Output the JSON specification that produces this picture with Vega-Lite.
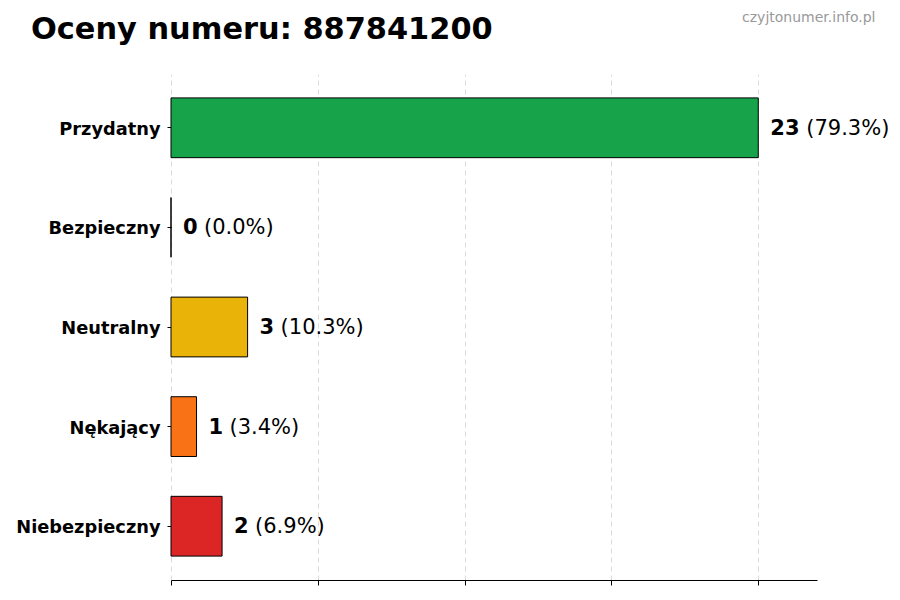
{
  "$schema": "https://vega.github.io/schema/vega-lite/v6.json",
  "autosize": "none",
  "padding": {"left": 171, "top": 74, "right": 83, "bottom": 20},
  "width": 646,
  "height": 506,
  "background": "white",
  "config": {
    "font": "DejaVu Sans",
    "view": {"stroke": null}
  },
  "title": {
    "text": "Oceny numeru: 887841200",
    "anchor": "start",
    "frame": "group",
    "dx": -140,
    "offset": 34,
    "dy": 93,
    "baseline": "alphabetic",
    "fontSize": 30.4,
    "fontWeight": "bold",
    "color": "black"
  },
  "data": {
    "values": [
      {"kategoria": "Przydatny", "liczba": 23, "procent": "(79.3%)"},
      {"kategoria": "Bezpieczny", "liczba": 0, "procent": "(0.0%)"},
      {"kategoria": "Neutralny", "liczba": 3, "procent": "(10.3%)"},
      {"kategoria": "Nękający", "liczba": 1, "procent": "(3.4%)"},
      {"kategoria": "Niebezpieczny", "liczba": 2, "procent": "(6.9%)"}
    ]
  },
  "encoding": {
    "y": {
      "field": "kategoria", "type": "nominal", "sort": null,
      "scale": {"paddingInner": 0.4, "paddingOuter": 0.24},
      "axis": {
        "title": "czyjtonumer.info.pl",
        "titleAngle": 0, "titleX": 704, "titleY": -53,
        "titleAlign": "right", "titleBaseline": "alphabetic",
        "titleFontSize": 14, "titleFontWeight": "normal", "titleColor": "#999999",
        "domain": false, "tickSize": 4, "tickColor": "black",
        "labelPadding": 7, "labelFontSize": 17.8, "labelFontWeight": "bold",
        "labelColor": "black", "labelOffset": 2
      }
    },
    "x": {
      "field": "liczba", "type": "quantitative",
      "scale": {"domain": [0, 25.3], "nice": false, "zero": true},
      "axis": {
        "title": null, "labels": false,
        "values": [0, 5.75, 11.5, 17.25, 23],
        "tickSize": 5, "tickColor": "black",
        "domainColor": "black", "domainWidth": 1.2,
        "grid": true, "gridDash": [5, 4], "gridColor": "#d0d0d0", "gridWidth": 0.8
      }
    }
  },
  "layer": [
    {
      "mark": {"type": "bar", "stroke": "black", "strokeWidth": 1},
      "encoding": {
        "color": {
          "field": "kategoria", "type": "nominal", "legend": null,
          "scale": {
            "domain": ["Przydatny", "Bezpieczny", "Neutralny", "Nękający", "Niebezpieczny"],
            "range": ["#16a34a", "#3b82f6", "#eab308", "#f97316", "#dc2626"]
          }
        }
      }
    },
    {
      "mark": {"type": "text", "align": "left", "baseline": "middle", "dx": 12, "dy": 1, "fontSize": 21, "fontWeight": "bold", "color": "black"},
      "encoding": {"text": {"field": "liczba", "type": "quantitative"}}
    },
    {
      "transform": [{"filter": "datum.liczba < 10"}],
      "mark": {"type": "text", "align": "left", "baseline": "middle", "dx": 33, "dy": 1, "fontSize": 21, "color": "black"},
      "encoding": {"text": {"field": "procent", "type": "nominal"}}
    },
    {
      "transform": [{"filter": "datum.liczba >= 10"}],
      "mark": {"type": "text", "align": "left", "baseline": "middle", "dx": 48, "dy": 1, "fontSize": 21, "color": "black"},
      "encoding": {"text": {"field": "procent", "type": "nominal"}}
    }
  ]
}
